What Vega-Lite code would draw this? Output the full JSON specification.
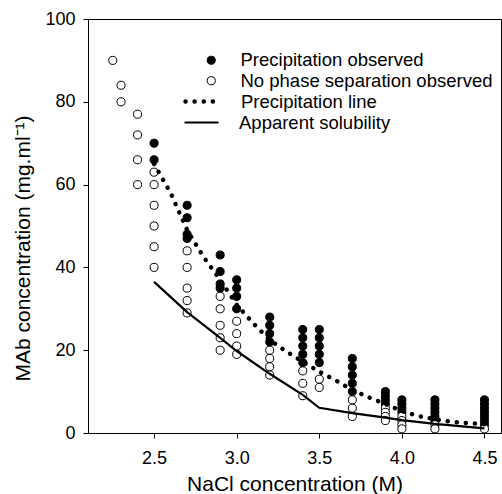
{
  "$schema": "https://vega.github.io/schema/vega-lite/v6.json",
  "width": 413,
  "height": 414,
  "autosize": "none",
  "padding": {"left": 88, "top": 19, "right": 1, "bottom": 61},
  "background": "white",
  "config": {
    "view": {"stroke": "black", "strokeWidth": 1},
    "font": "Liberation Sans",
    "axis": {
      "grid": false,
      "domainColor": "black",
      "tickColor": "black",
      "tickSize": 5,
      "labelFont": "Liberation Sans",
      "labelFontSize": 18,
      "labelColor": "black",
      "titleFont": "Liberation Sans",
      "titleFontSize": 21,
      "titleFontWeight": "normal",
      "titleColor": "black"
    },
    "legend": {
      "labelFont": "Liberation Sans",
      "labelFontSize": 18.5,
      "labelColor": "black",
      "labelLimit": 400
    }
  },
  "datasets": {
    "obs": [
      {"nacl": 2.25, "mab": 90, "status": "No phase separation observed"},
      {"nacl": 2.3, "mab": 84, "status": "No phase separation observed"},
      {"nacl": 2.3, "mab": 80, "status": "No phase separation observed"},
      {"nacl": 2.4, "mab": 77, "status": "No phase separation observed"},
      {"nacl": 2.4, "mab": 72, "status": "No phase separation observed"},
      {"nacl": 2.4, "mab": 66, "status": "No phase separation observed"},
      {"nacl": 2.4, "mab": 60, "status": "No phase separation observed"},
      {"nacl": 2.5, "mab": 70, "status": "Precipitation observed"},
      {"nacl": 2.5, "mab": 66, "status": "Precipitation observed"},
      {"nacl": 2.5, "mab": 63, "status": "No phase separation observed"},
      {"nacl": 2.5, "mab": 60, "status": "No phase separation observed"},
      {"nacl": 2.5, "mab": 55, "status": "No phase separation observed"},
      {"nacl": 2.5, "mab": 50, "status": "No phase separation observed"},
      {"nacl": 2.5, "mab": 45, "status": "No phase separation observed"},
      {"nacl": 2.5, "mab": 40, "status": "No phase separation observed"},
      {"nacl": 2.7, "mab": 55, "status": "Precipitation observed"},
      {"nacl": 2.7, "mab": 52, "status": "Precipitation observed"},
      {"nacl": 2.7, "mab": 48, "status": "Precipitation observed"},
      {"nacl": 2.7, "mab": 47, "status": "Precipitation observed"},
      {"nacl": 2.7, "mab": 44, "status": "No phase separation observed"},
      {"nacl": 2.7, "mab": 40, "status": "No phase separation observed"},
      {"nacl": 2.7, "mab": 35, "status": "No phase separation observed"},
      {"nacl": 2.7, "mab": 32, "status": "No phase separation observed"},
      {"nacl": 2.7, "mab": 29, "status": "No phase separation observed"},
      {"nacl": 2.9, "mab": 43, "status": "Precipitation observed"},
      {"nacl": 2.9, "mab": 39, "status": "Precipitation observed"},
      {"nacl": 2.9, "mab": 36, "status": "Precipitation observed"},
      {"nacl": 2.9, "mab": 35, "status": "Precipitation observed"},
      {"nacl": 2.9, "mab": 33, "status": "No phase separation observed"},
      {"nacl": 2.9, "mab": 30, "status": "No phase separation observed"},
      {"nacl": 2.9, "mab": 26, "status": "No phase separation observed"},
      {"nacl": 2.9, "mab": 23, "status": "No phase separation observed"},
      {"nacl": 2.9, "mab": 20, "status": "No phase separation observed"},
      {"nacl": 3.0, "mab": 37, "status": "Precipitation observed"},
      {"nacl": 3.0, "mab": 35, "status": "Precipitation observed"},
      {"nacl": 3.0, "mab": 33, "status": "Precipitation observed"},
      {"nacl": 3.0, "mab": 30, "status": "Precipitation observed"},
      {"nacl": 3.0, "mab": 27, "status": "No phase separation observed"},
      {"nacl": 3.0, "mab": 24, "status": "No phase separation observed"},
      {"nacl": 3.0, "mab": 21, "status": "No phase separation observed"},
      {"nacl": 3.0, "mab": 19, "status": "No phase separation observed"},
      {"nacl": 3.2, "mab": 28, "status": "Precipitation observed"},
      {"nacl": 3.2, "mab": 26, "status": "Precipitation observed"},
      {"nacl": 3.2, "mab": 24, "status": "Precipitation observed"},
      {"nacl": 3.2, "mab": 22, "status": "Precipitation observed"},
      {"nacl": 3.2, "mab": 20, "status": "No phase separation observed"},
      {"nacl": 3.2, "mab": 18, "status": "No phase separation observed"},
      {"nacl": 3.2, "mab": 16, "status": "No phase separation observed"},
      {"nacl": 3.2, "mab": 14, "status": "No phase separation observed"},
      {"nacl": 3.4, "mab": 25, "status": "Precipitation observed"},
      {"nacl": 3.4, "mab": 23, "status": "Precipitation observed"},
      {"nacl": 3.4, "mab": 21, "status": "Precipitation observed"},
      {"nacl": 3.4, "mab": 19, "status": "Precipitation observed"},
      {"nacl": 3.4, "mab": 17, "status": "Precipitation observed"},
      {"nacl": 3.4, "mab": 15, "status": "No phase separation observed"},
      {"nacl": 3.4, "mab": 12, "status": "No phase separation observed"},
      {"nacl": 3.4, "mab": 9, "status": "No phase separation observed"},
      {"nacl": 3.5, "mab": 25, "status": "Precipitation observed"},
      {"nacl": 3.5, "mab": 23, "status": "Precipitation observed"},
      {"nacl": 3.5, "mab": 21, "status": "Precipitation observed"},
      {"nacl": 3.5, "mab": 19, "status": "Precipitation observed"},
      {"nacl": 3.5, "mab": 17, "status": "Precipitation observed"},
      {"nacl": 3.5, "mab": 13, "status": "No phase separation observed"},
      {"nacl": 3.5, "mab": 11, "status": "No phase separation observed"},
      {"nacl": 3.7, "mab": 18, "status": "Precipitation observed"},
      {"nacl": 3.7, "mab": 16, "status": "Precipitation observed"},
      {"nacl": 3.7, "mab": 14, "status": "Precipitation observed"},
      {"nacl": 3.7, "mab": 12, "status": "Precipitation observed"},
      {"nacl": 3.7, "mab": 10, "status": "Precipitation observed"},
      {"nacl": 3.7, "mab": 8, "status": "No phase separation observed"},
      {"nacl": 3.7, "mab": 6, "status": "No phase separation observed"},
      {"nacl": 3.7, "mab": 4, "status": "No phase separation observed"},
      {"nacl": 3.9, "mab": 10, "status": "Precipitation observed"},
      {"nacl": 3.9, "mab": 9, "status": "Precipitation observed"},
      {"nacl": 3.9, "mab": 8, "status": "Precipitation observed"},
      {"nacl": 3.9, "mab": 7, "status": "Precipitation observed"},
      {"nacl": 3.9, "mab": 6, "status": "No phase separation observed"},
      {"nacl": 3.9, "mab": 5, "status": "No phase separation observed"},
      {"nacl": 3.9, "mab": 4, "status": "No phase separation observed"},
      {"nacl": 3.9, "mab": 3, "status": "No phase separation observed"},
      {"nacl": 4.0, "mab": 8, "status": "Precipitation observed"},
      {"nacl": 4.0, "mab": 7, "status": "Precipitation observed"},
      {"nacl": 4.0, "mab": 6, "status": "Precipitation observed"},
      {"nacl": 4.0, "mab": 5, "status": "Precipitation observed"},
      {"nacl": 4.0, "mab": 4, "status": "No phase separation observed"},
      {"nacl": 4.0, "mab": 3, "status": "No phase separation observed"},
      {"nacl": 4.0, "mab": 2, "status": "No phase separation observed"},
      {"nacl": 4.0, "mab": 1, "status": "No phase separation observed"},
      {"nacl": 4.2, "mab": 8, "status": "Precipitation observed"},
      {"nacl": 4.2, "mab": 7, "status": "Precipitation observed"},
      {"nacl": 4.2, "mab": 6, "status": "Precipitation observed"},
      {"nacl": 4.2, "mab": 5, "status": "Precipitation observed"},
      {"nacl": 4.2, "mab": 4, "status": "Precipitation observed"},
      {"nacl": 4.2, "mab": 3, "status": "Precipitation observed"},
      {"nacl": 4.2, "mab": 2, "status": "No phase separation observed"},
      {"nacl": 4.2, "mab": 1, "status": "No phase separation observed"},
      {"nacl": 4.5, "mab": 8, "status": "Precipitation observed"},
      {"nacl": 4.5, "mab": 7, "status": "Precipitation observed"},
      {"nacl": 4.5, "mab": 6, "status": "Precipitation observed"},
      {"nacl": 4.5, "mab": 5, "status": "Precipitation observed"},
      {"nacl": 4.5, "mab": 4, "status": "Precipitation observed"},
      {"nacl": 4.5, "mab": 3, "status": "Precipitation observed"},
      {"nacl": 4.5, "mab": 2, "status": "Precipitation observed"},
      {"nacl": 4.5, "mab": 1, "status": "No phase separation observed"}
    ],
    "precip": [
      {"nacl": 2.5, "mab": 65, "series": "Precipitation line"},
      {"nacl": 2.6, "mab": 58, "series": "Precipitation line"},
      {"nacl": 2.7, "mab": 49, "series": "Precipitation line"},
      {"nacl": 2.8, "mab": 42.5, "series": "Precipitation line"},
      {"nacl": 2.9, "mab": 37, "series": "Precipitation line"},
      {"nacl": 3.0, "mab": 31, "series": "Precipitation line"},
      {"nacl": 3.1, "mab": 26.5, "series": "Precipitation line"},
      {"nacl": 3.2, "mab": 22.5, "series": "Precipitation line"},
      {"nacl": 3.3, "mab": 19.7, "series": "Precipitation line"},
      {"nacl": 3.4, "mab": 17.2, "series": "Precipitation line"},
      {"nacl": 3.5, "mab": 14.8, "series": "Precipitation line"},
      {"nacl": 3.6, "mab": 12.7, "series": "Precipitation line"},
      {"nacl": 3.7, "mab": 10.4, "series": "Precipitation line"},
      {"nacl": 3.8, "mab": 8.6, "series": "Precipitation line"},
      {"nacl": 3.9, "mab": 7, "series": "Precipitation line"},
      {"nacl": 4.0, "mab": 5.3, "series": "Precipitation line"},
      {"nacl": 4.1, "mab": 4.1, "series": "Precipitation line"},
      {"nacl": 4.2, "mab": 3.3, "series": "Precipitation line"},
      {"nacl": 4.3, "mab": 2.7, "series": "Precipitation line"},
      {"nacl": 4.4, "mab": 2.4, "series": "Precipitation line"},
      {"nacl": 4.5, "mab": 2.1, "series": "Precipitation line"}
    ],
    "solub": [
      {"nacl": 2.5, "mab": 36.5, "series": "Apparent solubility"},
      {"nacl": 2.7, "mab": 29.2, "series": "Apparent solubility"},
      {"nacl": 2.9, "mab": 23, "series": "Apparent solubility"},
      {"nacl": 3.0, "mab": 19.8, "series": "Apparent solubility"},
      {"nacl": 3.2, "mab": 14.3, "series": "Apparent solubility"},
      {"nacl": 3.4, "mab": 9.2, "series": "Apparent solubility"},
      {"nacl": 3.5, "mab": 6.1, "series": "Apparent solubility"},
      {"nacl": 3.7, "mab": 4.8, "series": "Apparent solubility"},
      {"nacl": 3.9, "mab": 3.7, "series": "Apparent solubility"},
      {"nacl": 4.0, "mab": 3.1, "series": "Apparent solubility"},
      {"nacl": 4.2, "mab": 2.2, "series": "Apparent solubility"},
      {"nacl": 4.5, "mab": 1.1, "series": "Apparent solubility"}
    ]
  },
  "encoding": {
    "x": {
      "field": "nacl",
      "type": "quantitative",
      "scale": {"domain": [2.1, 4.6], "nice": false, "zero": false},
      "axis": {
        "title": "NaCl concentration (M)",
        "values": [2.5, 3.0, 3.5, 4.0, 4.5],
        "format": ".1f",
        "labelPadding": 11,
        "titleY": 57,
        "titleBaseline": "alphabetic"
      }
    },
    "y": {
      "field": "mab",
      "type": "quantitative",
      "scale": {"domain": [0, 100], "nice": false},
      "axis": {
        "title": "MAb concentration (mg.ml⁻¹)",
        "values": [0, 20, 40, 60, 80, 100],
        "labelPadding": 8,
        "titleX": -59,
        "titleY": 229,
        "titleAngle": 270,
        "titleAlign": "center",
        "titleBaseline": "alphabetic"
      }
    }
  },
  "layer": [
    {
      "data": {"name": "obs"},
      "mark": {"type": "point", "shape": "circle", "filled": true, "stroke": "black", "strokeWidth": 1, "size": 65, "opacity": 1},
      "encoding": {
        "fill": {
          "field": "status",
          "type": "nominal",
          "scale": {"domain": ["Precipitation observed", "No phase separation observed"], "range": ["black", "white"]},
          "legend": {
            "title": null,
            "orient": "none",
            "legendX": 114,
            "legendY": 32,
            "symbolType": "circle",
            "symbolSize": 65,
            "symbolStrokeColor": "black",
            "symbolStrokeWidth": 1,
            "symbolOpacity": 1,
            "labelOffset": 20,
            "rowPadding": 1.5
          }
        }
      }
    },
    {
      "data": {"name": "precip"},
      "mark": {"type": "line", "color": "black", "strokeCap": "round", "strokeWidth": 4.5},
      "encoding": {
        "strokeDash": {
          "field": "series",
          "type": "nominal",
          "scale": {"domain": ["Precipitation line"], "range": [[0.1, 9]]},
          "legend": {
            "title": null,
            "orient": "none",
            "legendX": 95,
            "legendY": 63,
            "symbolType": "stroke",
            "symbolSize": 1156,
            "symbolStrokeColor": "black",
            "symbolStrokeWidth": 4.5,
            "labelOffset": 19,
            "encode": {"symbols": {"update": {"strokeCap": {"value": "round"}}}}
          }
        }
      }
    },
    {
      "data": {"name": "solub"},
      "mark": {"type": "line", "strokeWidth": 2.2},
      "encoding": {
        "color": {
          "field": "series",
          "type": "nominal",
          "scale": {"domain": ["Apparent solubility"], "range": ["black"]},
          "legend": {
            "title": null,
            "orient": "none",
            "legendX": 95,
            "legendY": 85,
            "symbolType": "stroke",
            "symbolSize": 1156,
            "symbolStrokeWidth": 2.2,
            "labelOffset": 19
          }
        }
      }
    }
  ]
}
